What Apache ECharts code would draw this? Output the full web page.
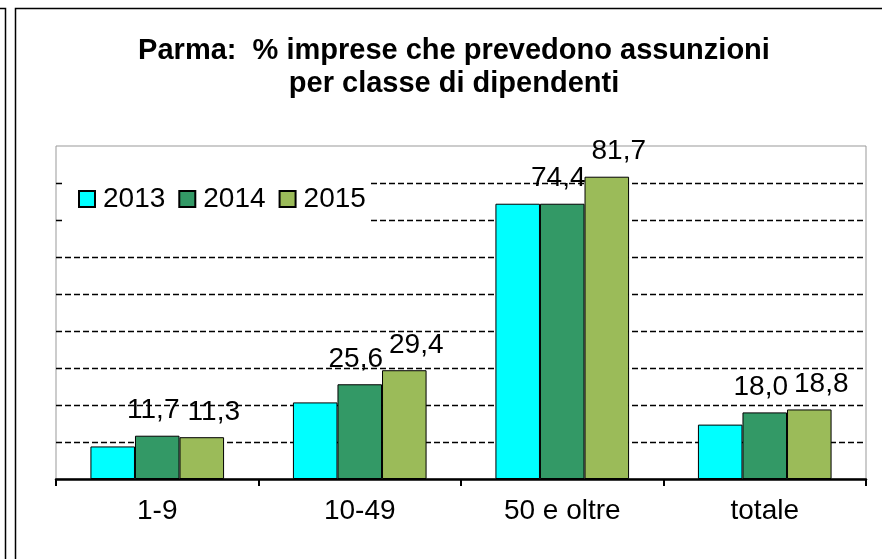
<!DOCTYPE html>
<html>
<head>
<meta charset="utf-8">
<script src="https://cdn.jsdelivr.net/npm/echarts@6/dist/echarts.min.js"></script>
<style>
  html, body { margin: 0; padding: 0; background: #fff; }
  #chart { width: 882px; height: 559px; }
</style>
</head>
<body>
<div id="chart"></div>
<script>
// values (2013 labels are not shown in the original)
const categories = ['1-9', '10-49', '50 e oltre', 'totale'];
const years = ['2013', '2014', '2015'];
const v2013 = [8.8, 20.7, 74.4, 14.7];
const v2014 = [11.7, 25.6, 74.4, 18.0];
const v2015 = [11.3, 29.4, 81.7, 18.8];

const font = 'Liberation Sans, Arial, sans-serif';
const colors = ['#00FFFF', '#339966', '#9BBB59'];

function fmt(p) {
    return p.value.toFixed(1).replace('.', ',');
}

function barSeries(name, data, color, showLabel, offset) {
    return {
        name: name,
        type: 'bar',
        data: data,
        barGap: 0,
        barCategoryGap: '34%',
        itemStyle: { color: color, borderColor: '#000', borderWidth: 1 },
        label: {
            show: showLabel,
            position: 'top',
            distance: 11,
            offset: offset,
            formatter: fmt,
            color: '#000',
            fontSize: 28,
            fontFamily: font
        }
    };
}

let chart = echarts.init(document.getElementById('chart'));
chart.setOption({
    animation: false,
    backgroundColor: '#fff',
    title: {
        text: 'Parma:  % imprese che prevedono assunzioni\nper classe di dipendenti',
        left: 449,
        top: 29,
        textAlign: 'center',
        textStyle: {
            fontSize: 29,
            fontWeight: 'bold',
            fontFamily: font,
            color: '#000',
            lineHeight: 33
        }
    },
    legend: {
        data: years,
        left: 63,
        top: 180,
        padding: [5, 3, 10, 15],
        backgroundColor: '#fff',
        itemWidth: 16,
        itemHeight: 16,
        itemGap: 13,
        icon: 'rect',
        textStyle: {
            fontSize: 28,
            fontFamily: font,
            color: '#000',
            padding: [0, 0, 0, 3]
        }
    },
    grid: {
        left: 56,
        top: 146,
        right: 16,
        bottom: 80,
        show: true,
        borderColor: '#999',
        borderWidth: 1
    },
    xAxis: {
        type: 'category',
        data: categories,
        axisLine: { lineStyle: { color: '#000', width: 2.5 } },
        axisTick: { show: true, length: 7, lineStyle: { color: '#000', width: 2 } },
        axisLabel: { fontSize: 28, fontFamily: font, color: '#000', margin: 18 }
    },
    yAxis: {
        type: 'value',
        min: 0,
        max: 90,
        interval: 10,
        axisLabel: { show: false },
        axisLine: { show: false },
        axisTick: { show: false },
        splitLine: {
            show: true,
            showMinLine: false,
            showMaxLine: false,
            lineStyle: { color: '#000', width: 1.3, type: [6, 3] }
        }
    },
    graphic: [
        {
            type: 'polyline',
            shape: { points: [[0, 8.5], [5.5, 8.5], [5.5, 559]] },
            style: { stroke: '#000', lineWidth: 1.5, fill: null }
        },
        {
            type: 'polyline',
            shape: { points: [[15.5, 559], [15.5, 8.5], [882, 8.5]] },
            style: { stroke: '#000', lineWidth: 1.5, fill: null }
        }
    ],
    series: [
        barSeries('2013', v2013, colors[0], false, [0, 0]),
        barSeries('2014', v2014, colors[1], true, [-4, 0]),
        barSeries('2015', v2015, colors[2], true, [12, 0])
    ]
});
</script>
</body>
</html>
